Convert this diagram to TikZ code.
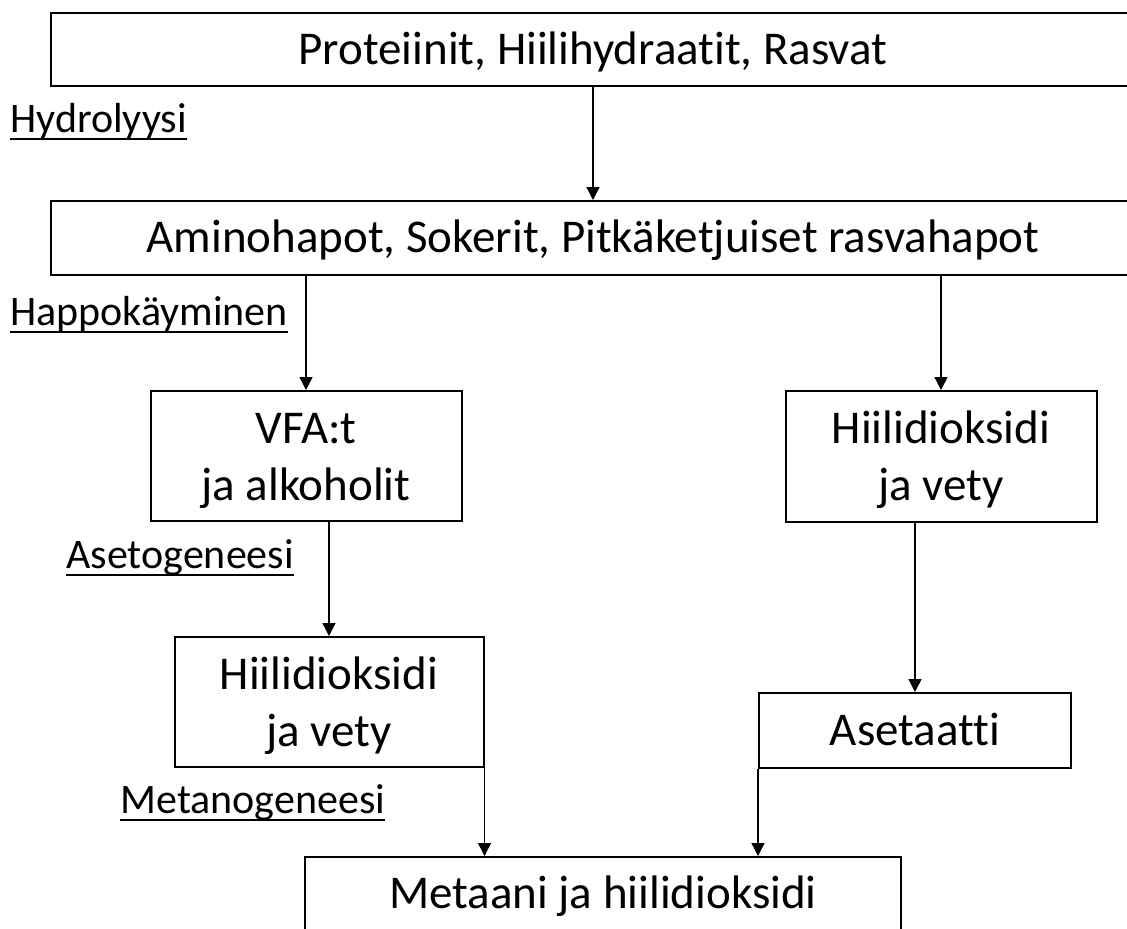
\documentclass[tikz,border=0pt]{standalone}
\usepackage{fontspec}
\setmainfont{Carlito}[Ligatures=NoCommon]
\usetikzlibrary{arrows.meta, positioning, calc}
\newcommand{\ulabel}[1]{\setbox0\hbox{#1}\rlap{\rule[-3.75pt]{\wd0}{0.9pt}}\box0}

\begin{document}
\begin{tikzpicture}[x=0.5pt, y=-0.5pt,
    stage/.style={rectangle, draw, line width=1pt, align=center, inner sep=0pt, font=\fontsize{23.5}{28.5}\selectfont},
    oneliner/.style={text height=15.5pt, text depth=1pt},
    twoliner/.style={text height=44pt, text depth=0pt},
    phase/.style={anchor=base west, inner sep=0pt, font=\fontsize{21}{25}\selectfont},
    flow/.style={-{Triangle[width=6.5pt,length=6.5pt]}, line width=0.65pt}]

    \useasboundingbox (0,0) rectangle (1127,928);
    \clip (0,0) rectangle (1127,928);

    \node [stage, oneliner, minimum width=542pt, minimum height=36.5pt] (polymers) at (593,49.5) {Proteiinit, Hiilihydraatit, Rasvat};
    \node [stage, oneliner, minimum width=542pt, minimum height=37pt] (monomers) at (593,238) {Aminohapot, Sokerit, Pitkäketjuiset rasvahapot};
    \node [stage, twoliner, minimum width=155.5pt, minimum height=65pt] (vfa) at (306,456) {VFA:t\\ja alkoholit};
    \node [stage, twoliner, minimum width=155.5pt, minimum height=65.5pt] (gasright) at (941,456.5) {Hiilidioksidi\\ja vety};
    \node [stage, twoliner, minimum width=154.5pt, minimum height=65pt] (gasleft) at (329,702) {Hiilidioksidi\\ja vety};
    \node [stage, oneliner, minimum width=156pt, minimum height=37.5pt] (acetate) at (915,730.5) {Asetaatti};
    \node [stage, oneliner, minimum width=298pt, minimum height=36.5pt] (methane) at (603,893.5) {Metaani ja hiilidioksidi};

    \node [phase] (hydro) at (10,132) {\ulabel{Hydrolyysi}};
    \node [phase] (acido) at (10,325) {\ulabel{Happokäyminen}};
    \node [phase] (aceto) at (66,568) {\ulabel{Asetogeneesi}};
    \node [phase] (metha) at (120,813) {\ulabel{Metanogeneesi}};

    \draw [flow] (polymers) -- (monomers);
    \draw [flow] (vfa.north |- monomers.south) -- (vfa.north);
    \draw [flow] (gasright.north |- monomers.south) -- (gasright.north);
    \draw [flow] (gasleft.north |- vfa.south) -- (gasleft.north);
    \draw [flow] (acetate.north |- gasright.south) -- (acetate.north);
    \draw [flow] (gasleft.south east) -- (gasleft.south east |- methane.north);
    \draw [flow] (acetate.south west) -- (acetate.south west |- methane.north);
\end{tikzpicture}
\end{document}
